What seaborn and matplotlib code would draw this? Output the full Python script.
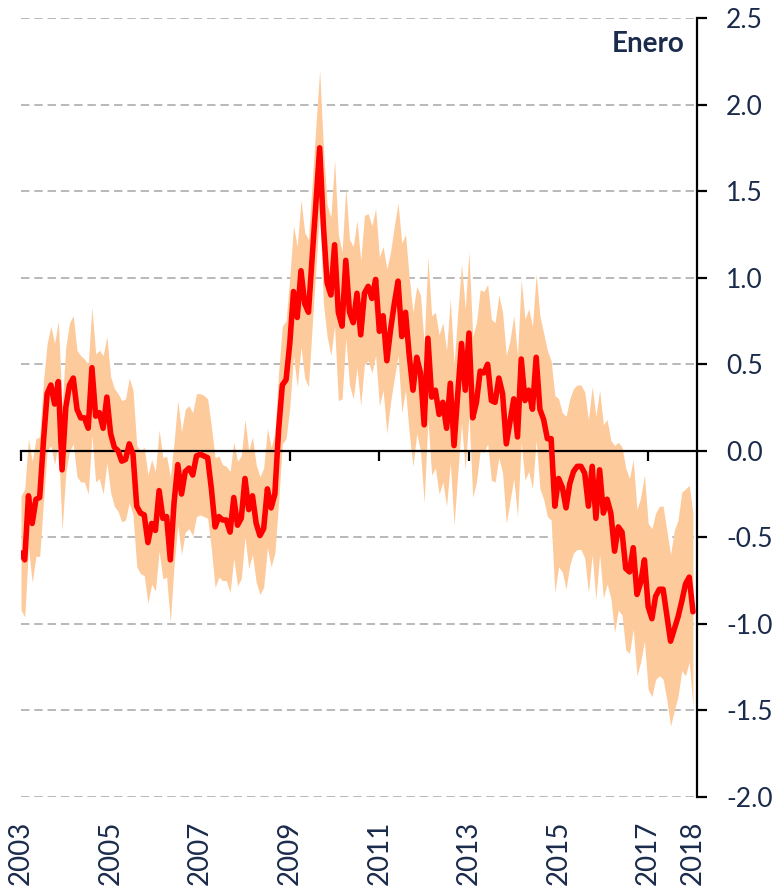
import numpy as np
import pandas as pd
import matplotlib
matplotlib.use("Agg")
import matplotlib.pyplot as plt
import seaborn as sns

# ---- data (monthly, Jan 2003 .. Jan 2018) ----
start_year = 2003
central = [
    -0.59, -0.63, -0.26, -0.42, -0.28, -0.27, 0.05, 0.33, 0.38, 0.27, 0.40, -0.11,   # 2003
    0.25, 0.38, 0.42, 0.24, 0.19, 0.19, 0.13, 0.48, 0.20, 0.22, 0.13, 0.31,          # 2004
    0.10, 0.02, 0.00, -0.06, -0.05, 0.04, -0.02, -0.32, -0.36, -0.37, -0.53, -0.42,  # 2005
    -0.46, -0.23, -0.39, -0.38, -0.63, -0.30, -0.08, -0.25, -0.12, -0.10, -0.14, -0.03,  # 2006
    -0.02, -0.03, -0.04, -0.22, -0.44, -0.38, -0.40, -0.40, -0.47, -0.27, -0.43, -0.39,  # 2007
    -0.16, -0.34, -0.26, -0.42, -0.49, -0.45, -0.22, -0.33, -0.25, 0.12, 0.38, 0.41,     # 2008
    0.62, 0.92, 0.77, 1.04, 0.85, 0.80, 1.12, 1.43, 1.75, 1.30, 0.97, 0.90,          # 2009
    1.19, 0.80, 0.72, 1.10, 0.80, 0.74, 0.91, 0.67, 0.91, 0.95, 0.88, 0.99,          # 2010
    0.69, 0.78, 0.52, 0.70, 0.85, 0.98, 0.66, 0.80, 0.55, 0.35, 0.54, 0.45,          # 2011
    0.15, 0.65, 0.31, 0.35, 0.21, 0.28, 0.13, 0.39, 0.03, 0.33, 0.62, 0.35,          # 2012
    0.68, 0.19, 0.28, 0.46, 0.45, 0.50, 0.29, 0.28, 0.42, 0.33, 0.04, 0.17,          # 2013
    0.30, 0.08, 0.53, 0.29, 0.35, 0.24, 0.54, 0.24, 0.18, 0.07, 0.07, -0.32,         # 2014
    -0.16, -0.21, -0.33, -0.19, -0.12, -0.09, -0.09, -0.13, -0.32, -0.09, -0.39, -0.11,  # 2015
    -0.36, -0.28, -0.36, -0.58, -0.44, -0.47, -0.68, -0.70, -0.56, -0.83, -0.76, -0.63,  # 2016
    -0.90, -0.97, -0.84, -0.80, -0.80, -0.95, -1.10, -1.03, -0.96, -0.87, -0.77, -0.73,  # 2017
    -0.93,                                                                           # 2018
]
upper = [
    -0.26, -0.22, 0.07, -0.06, 0.07, 0.08, 0.40, 0.62, 0.72, 0.62, 0.75, 0.26,
    0.60, 0.74, 0.78, 0.58, 0.55, 0.53, 0.50, 0.83, 0.56, 0.58, 0.55, 0.66,
    0.43, 0.36, 0.33, 0.29, 0.30, 0.42, 0.35, 0.03, 0.00, 0.02, -0.14, -0.05,
    -0.12, 0.12, -0.04, -0.03, -0.15, 0.05, 0.29, 0.11, 0.24, 0.26, 0.22, 0.33,
    0.33, 0.32, 0.30, 0.14, -0.04, -0.03, -0.08, -0.09, -0.12, 0.05, -0.06, -0.03,
    0.18, 0.00, 0.08, -0.08, -0.15, -0.10, 0.13, 0.02, 0.10, 0.45, 0.72, 0.75,
    1.00, 1.30, 1.18, 1.45, 1.26, 1.22, 1.55, 1.88, 2.20, 1.75, 1.42, 1.35,
    1.68, 1.25, 1.15, 1.52, 1.22, 1.18, 1.33, 1.10, 1.36, 1.37, 1.30, 1.40,
    1.12, 1.18, 1.05, 1.15, 1.30, 1.43, 1.20, 1.25, 1.00, 0.80, 0.95, 0.90,
    0.62, 1.12, 0.78, 0.80, 0.67, 0.74, 0.58, 0.88, 0.50, 0.80, 1.08, 0.82,
    1.15, 0.66, 0.74, 0.93, 0.92, 0.96, 0.76, 0.74, 0.90, 0.80, 0.55, 0.64,
    0.78, 0.55, 0.99, 0.76, 0.82, 0.72, 1.02, 0.78, 0.68, 0.58, 0.52, 0.32,
    0.30, 0.22, 0.20, 0.30, 0.36, 0.38, 0.38, 0.34, 0.18, 0.37, 0.20, 0.35,
    0.15, 0.18, 0.06, 0.03, 0.05, 0.02, -0.10, -0.16, -0.05, -0.34, -0.27, -0.14,
    -0.42, -0.45, -0.36, -0.32, -0.32, -0.46, -0.60, -0.46, -0.40, -0.24, -0.22, -0.20,
    -0.36,
]
lower = [
    -0.92, -0.96, -0.56, -0.76, -0.61, -0.61, -0.30, 0.00, 0.03, -0.08, 0.05, -0.46,
    -0.13, 0.00, 0.04, -0.15, -0.18, -0.18, -0.25, 0.09, -0.18, -0.16, -0.25, -0.07,
    -0.24, -0.32, -0.35, -0.41, -0.40, -0.30, -0.37, -0.67, -0.71, -0.72, -0.88, -0.77,
    -0.81, -0.58, -0.74, -0.73, -0.99, -0.66, -0.43, -0.60, -0.47, -0.45, -0.49, -0.38,
    -0.37, -0.38, -0.39, -0.57, -0.79, -0.73, -0.75, -0.75, -0.82, -0.62, -0.78, -0.74,
    -0.50, -0.68, -0.60, -0.76, -0.83, -0.79, -0.56, -0.67, -0.59, -0.30, 0.04, 0.07,
    0.25, 0.55, 0.37, 0.60, 0.42, 0.37, 0.72, 1.05, 1.40, 0.85, 0.66, 0.55,
    0.72, 0.29, 0.30, 0.65, 0.38, 0.30, 0.48, 0.26, 0.50, 0.52, 0.45, 0.55,
    0.26, 0.35, 0.10, 0.28, 0.42, 0.55, 0.22, 0.35, 0.10, -0.09, 0.10, 0.00,
    -0.30, 0.18, -0.14, -0.10, -0.25, -0.18, -0.32, -0.07, -0.43, -0.13, 0.16, -0.11,
    0.21, -0.27, -0.18, 0.00, -0.01, 0.04, -0.17, -0.18, -0.04, -0.13, -0.42, -0.29,
    -0.16, -0.38, 0.05, -0.17, -0.12, -0.22, 0.06, -0.22, -0.28, -0.38, -0.40, -0.82,
    -0.67, -0.70, -0.80, -0.66, -0.59, -0.57, -0.57, -0.62, -0.82, -0.60, -0.86, -0.60,
    -0.85, -0.77, -0.85, -1.05, -0.92, -0.95, -1.15, -1.17, -1.03, -1.30, -1.22, -1.10,
    -1.38, -1.42, -1.32, -1.30, -1.32, -1.44, -1.59, -1.50, -1.42, -1.27, -1.30, -1.22,
    -1.48,
]
x_tick_years = [2003, 2005, 2007, 2009, 2011, 2013, 2015, 2017]
x_label_years = [2003, 2005, 2007, 2009, 2011, 2013, 2015, 2017, 2018]
y_ticks = [-2.0, -1.5, -1.0, -0.5, 0.0, 0.5, 1.0, 1.5, 2.0, 2.5]
y_labels = ["-2.0", "-1.5", "-1.0", "-0.5", "0.0", "0.5", "1.0", "1.5", "2.0", "2.5"]
panel_label = "Enero"

df = pd.DataFrame({
    "year": start_year + np.arange(len(central)) / 12.0,
    "central": central,
    "upper": upper,
    "lower": lower,
})

# ---- style ----
sns.set_style("white")
plt.rcParams["font.family"] = ["Lato", "DejaVu Sans"]
TEXT = "#1B2B4B"
BAND = "#FDCA9C"
RED = "#FF0000"

fig = plt.figure(figsize=(7.79, 8.86), dpi=100)
ax = fig.add_axes([21 / 779, 1 - 797 / 886, (697 - 21) / 779, (797 - 18) / 886])

ax.fill_between(df["year"], df["lower"], df["upper"], color=BAND, lw=0, zorder=1)
sns.lineplot(data=df, x="year", y="central", color=RED, lw=4.0, ax=ax, zorder=5)

ax.set_xlim(2003, 2018.09)
ax.set_ylim(-2.0, 2.5)

# grid
for yv in y_ticks:
    if yv != 0.0:
        ax.axhline(yv, color="#A6A6A6", lw=1.1, ls=(0, (5.5, 3.2)), zorder=0)

# spines
for s in ["left", "top"]:
    ax.spines[s].set_visible(False)
ax.spines["right"].set_color("black")
ax.spines["right"].set_linewidth(1.6)
ax.spines["bottom"].set_position(("data", 0))
ax.spines["bottom"].set_color("black")
ax.spines["bottom"].set_linewidth(1.6)
ax.spines["bottom"].set_zorder(4)

ax.yaxis.tick_right()
ax.set_yticks(y_ticks)
ax.set_yticklabels(y_labels)
ax.tick_params(axis="y", right=True, left=False, direction="out", length=7, width=1.6,
               color="black", labelsize=19, labelcolor=TEXT, pad=14)

ax.set_xticks(x_tick_years)
ax.tick_params(axis="x", bottom=True, top=False, direction="out", length=7, width=1.6,
               color="black", labelbottom=False)
ax.set_xlabel("")
ax.set_ylabel("")

sec = ax.secondary_xaxis("bottom")
sec.set_xticks(x_label_years)
sec.set_xticklabels([str(y) for y in x_label_years], rotation=90, va="top", ha="center")
sec.tick_params(length=0, labelsize=20, labelcolor=TEXT, pad=17)
sec.spines["bottom"].set_visible(False)

ax.text(0.981, 0.967, panel_label, transform=ax.transAxes, ha="right", va="center",
        fontsize=20, fontweight="bold", color=TEXT)

fig.savefig("out.png", dpi=100)
